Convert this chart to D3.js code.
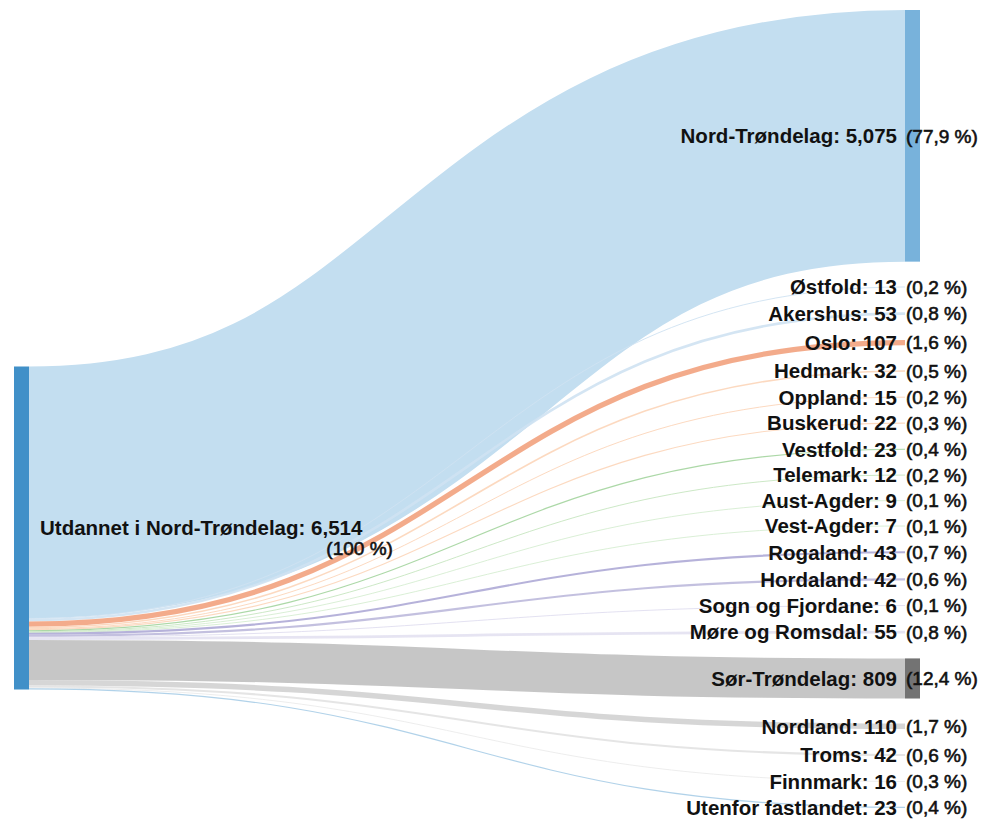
<!DOCTYPE html>
<html>
<head>
<meta charset="utf-8">
<script src="https://cdn.jsdelivr.net/npm/d3@7"></script>
<style>
  body { margin: 0; background: #fff; }
  text { font-family: Arial, "Liberation Sans", sans-serif; fill: #111; }
</style>
</head>
<body>
<div id="chart"></div>
<script>
var width = 992,
    height = 819;

// data
var sourceName = "Utdannet i Nord-Trøndelag",
    sourceValue = 6514,
    sourcePct = "100 %";

var targets = ["Nord-Trøndelag", "Østfold", "Akershus", "Oslo", "Hedmark", "Oppland", "Buskerud",
  "Vestfold", "Telemark", "Aust-Agder", "Vest-Agder", "Rogaland", "Hordaland", "Sogn og Fjordane",
  "Møre og Romsdal", "Sør-Trøndelag", "Nordland", "Troms", "Finnmark", "Utenfor fastlandet"];
var values = [5075, 13, 53, 107, 32, 15, 22, 23, 12, 9, 7, 43, 42, 6, 55, 809, 110, 42, 16, 23];
var percents = ["77,9 %", "0,2 %", "0,8 %", "1,6 %", "0,5 %", "0,2 %", "0,3 %", "0,4 %", "0,2 %",
  "0,1 %", "0,1 %", "0,7 %", "0,6 %", "0,1 %", "0,8 %", "12,4 %", "1,7 %", "0,6 %", "0,3 %", "0,4 %"];

var linkColors = ["#c3def0", "#cfe2f2", "#cfe2f2", "#f2a27e", "#fcd5b9", "#fcd5b9", "#fcd5b9",
  "#a3d49d", "#c6e6c0", "#d6edd1", "#d6edd1", "#aeaad6", "#bcb9dc", "#e0def0",
  "#e3e1f1", "#c0c0c0", "#d2d2d2", "#e2e2e2", "#ebebeb", "#a9cde7"];
var nodeColors = { source: "#4190c8", "Nord-Trøndelag": "#78b2db", "Sør-Trøndelag": "#737373" };

// layout
var nodeWidth = 15,
    padding = 25,
    srcX = 14, tgtX = 905,
    yTop = 10, yBottom = 808;

var k = (yBottom - yTop - padding * (targets.length - 1)) / d3.sum(values);
var h = d3.scaleLinear().domain([0, sourceValue]).range([0, sourceValue * k]);

var sourceH = h(sourceValue),
    sourceY = 528 - sourceH / 2;

var nodes = targets.map(function(t, i) {
  return { name: t, value: values[i], pct: percents[i], color: linkColors[i] };
});
var yy = yTop;
nodes.forEach(function(d) {
  d.y0 = yy;
  d.y1 = yy + h(d.value);
  yy = d.y1 + padding;
});
var sy = sourceY;
nodes.forEach(function(d) {
  d.sy0 = sy;
  d.sy1 = sy + h(d.value);
  sy = d.sy1;
});

var svg = d3.select("#chart").append("svg")
  .attr("width", width)
  .attr("height", height);

var link = d3.linkHorizontal()
  .source(function(d) { return [srcX + nodeWidth, (d.sy0 + d.sy1) / 2]; })
  .target(function(d) { return [tgtX, (d.y0 + d.y1) / 2]; });

svg.append("g")
  .selectAll("path")
  .data(nodes)
  .enter()
  .append("path")
  .attr("d", link)
  .style("fill", "none")
  .style("stroke", function(d) { return d.color; })
  .style("stroke-opacity", function(d, i) { return i == 0 ? 1 : 0.9; })
  .style("stroke-width", function(d) { return Math.max(1, d.y1 - d.y0); });

// nodes
svg.append("rect")
  .attr("x", srcX).attr("y", sourceY)
  .attr("width", nodeWidth).attr("height", sourceH)
  .style("fill", nodeColors.source);

svg.append("g")
  .selectAll("rect")
  .data(nodes.filter(function(d) { return nodeColors[d.name]; }))
  .enter()
  .append("rect")
  .attr("x", tgtX).attr("y", function(d) { return d.y0; })
  .attr("width", nodeWidth)
  .attr("height", function(d) { return d.y1 - d.y0; })
  .style("fill", function(d) { return nodeColors[d.name]; });

// labels
var fmt = d3.format(",");

var lab = svg.append("g")
  .selectAll("g")
  .data(nodes)
  .enter()
  .append("g")
  .attr("transform", function(d) { return "translate(0," + (d.y0 + d.y1) / 2 + ")"; });

lab.append("text")
  .attr("x", tgtX - 8)
  .attr("dy", "0.36em")
  .style("text-anchor", "end")
  .style("font-size", "20.5px")
  .style("font-weight", "bold")
  .text(function(d) { return d.name + ": " + fmt(d.value); });

lab.append("text")
  .attr("x", tgtX + 1)
  .attr("dy", "0.36em")
  .style("font-size", "19px")
  .style("stroke", "#111")
  .style("stroke-width", 0.6)
  .text(function(d) { return "(" + d.pct + ")"; });

var srcText = svg.append("text")
  .attr("x", 40)
  .attr("y", sourceY + sourceH / 2)
  .attr("dy", "0.36em")
  .style("font-size", "20.5px")
  .style("font-weight", "bold")
  .text(sourceName + ": " + fmt(sourceValue));

var srcEnd = 40 + srcText.node().getComputedTextLength();

svg.append("text")
  .attr("x", srcEnd - 36)
  .attr("y", sourceY + sourceH / 2 + 20)
  .attr("dy", "0.36em")
  .style("font-size", "19px")
  .style("stroke", "#111")
  .style("stroke-width", 0.6)
  .text("(" + sourcePct + ")");
</script>
</body>
</html>
